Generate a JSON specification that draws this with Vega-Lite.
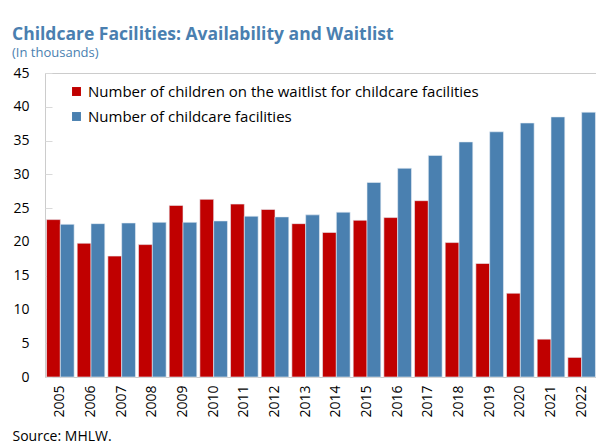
{
  "$schema": "https://vega.github.io/schema/vega-lite/v6.json",
  "autosize": "none",
  "width": 552,
  "height": 304,
  "padding": {"left": 45, "top": 73, "right": 0, "bottom": 66},
  "background": "white",
  "title": {
    "text": "Childcare Facilities: Availability and Waitlist",
    "subtitle": "(In thousands)",
    "anchor": "start",
    "frame": "group",
    "dx": -33,
    "offset": 6,
    "font": "Open Sans",
    "fontSize": 17.5,
    "fontWeight": "bold",
    "color": "#4a7fb0",
    "subtitleFont": "Open Sans",
    "subtitleFontSize": 13,
    "subtitleColor": "#4a7fb0",
    "subtitlePadding": 4
  },
  "data": {
    "values": [
      {"year": "2005", "series": "Number of children on the waitlist for childcare facilities", "value": 23.3},
      {"year": "2005", "series": "Number of childcare facilities", "value": 22.6},
      {"year": "2006", "series": "Number of children on the waitlist for childcare facilities", "value": 19.8},
      {"year": "2006", "series": "Number of childcare facilities", "value": 22.7},
      {"year": "2007", "series": "Number of children on the waitlist for childcare facilities", "value": 17.9},
      {"year": "2007", "series": "Number of childcare facilities", "value": 22.8},
      {"year": "2008", "series": "Number of children on the waitlist for childcare facilities", "value": 19.6},
      {"year": "2008", "series": "Number of childcare facilities", "value": 22.9},
      {"year": "2009", "series": "Number of children on the waitlist for childcare facilities", "value": 25.4},
      {"year": "2009", "series": "Number of childcare facilities", "value": 22.9},
      {"year": "2010", "series": "Number of children on the waitlist for childcare facilities", "value": 26.3},
      {"year": "2010", "series": "Number of childcare facilities", "value": 23.1},
      {"year": "2011", "series": "Number of children on the waitlist for childcare facilities", "value": 25.6},
      {"year": "2011", "series": "Number of childcare facilities", "value": 23.8},
      {"year": "2012", "series": "Number of children on the waitlist for childcare facilities", "value": 24.8},
      {"year": "2012", "series": "Number of childcare facilities", "value": 23.7},
      {"year": "2013", "series": "Number of children on the waitlist for childcare facilities", "value": 22.7},
      {"year": "2013", "series": "Number of childcare facilities", "value": 24.0},
      {"year": "2014", "series": "Number of children on the waitlist for childcare facilities", "value": 21.4},
      {"year": "2014", "series": "Number of childcare facilities", "value": 24.4},
      {"year": "2015", "series": "Number of children on the waitlist for childcare facilities", "value": 23.2},
      {"year": "2015", "series": "Number of childcare facilities", "value": 28.8},
      {"year": "2016", "series": "Number of children on the waitlist for childcare facilities", "value": 23.6},
      {"year": "2016", "series": "Number of childcare facilities", "value": 30.9},
      {"year": "2017", "series": "Number of children on the waitlist for childcare facilities", "value": 26.1},
      {"year": "2017", "series": "Number of childcare facilities", "value": 32.8},
      {"year": "2018", "series": "Number of children on the waitlist for childcare facilities", "value": 19.9},
      {"year": "2018", "series": "Number of childcare facilities", "value": 34.8},
      {"year": "2019", "series": "Number of children on the waitlist for childcare facilities", "value": 16.8},
      {"year": "2019", "series": "Number of childcare facilities", "value": 36.3},
      {"year": "2020", "series": "Number of children on the waitlist for childcare facilities", "value": 12.4},
      {"year": "2020", "series": "Number of childcare facilities", "value": 37.6},
      {"year": "2021", "series": "Number of children on the waitlist for childcare facilities", "value": 5.6},
      {"year": "2021", "series": "Number of childcare facilities", "value": 38.5},
      {"year": "2022", "series": "Number of children on the waitlist for childcare facilities", "value": 2.9},
      {"year": "2022", "series": "Number of childcare facilities", "value": 39.2}
    ]
  },
  "mark": {"type": "bar", "stroke": "#e8eef5", "strokeWidth": 0.6},
  "encoding": {
    "x": {
      "field": "year",
      "type": "nominal",
      "scale": {"paddingInner": 0.1, "paddingOuter": 0.05},
      "axis": {
        "title": "Source: MHLW.",
        "titleFont": "Open Sans",
        "titleFontSize": 14,
        "titleFontWeight": "normal",
        "titleColor": "#000000",
        "titleAnchor": "start",
        "titleAlign": "left",
        "titleBaseline": "top",
        "titleX": -33,
        "titleY": 52,
        "labelAngle": -90,
        "labelFont": "Open Sans",
        "labelFontSize": 14,
        "labelColor": "#000000",
        "labelPadding": 8,
        "ticks": false,
        "domain": true,
        "domainColor": "#cccccc"
      }
    },
    "xOffset": {
      "field": "series",
      "type": "nominal",
      "sort": ["Number of children on the waitlist for childcare facilities", "Number of childcare facilities"]
    },
    "y": {
      "field": "value",
      "type": "quantitative",
      "scale": {"domain": [0, 45], "nice": false},
      "axis": {
        "title": null,
        "values": [0, 5, 10, 15, 20, 25, 30, 35, 40, 45],
        "grid": false,
        "domain": false,
        "tickSize": -7,
        "tickColor": "#d9d9d9",
        "labelFont": "Open Sans",
        "labelFontSize": 14,
        "labelColor": "#000000",
        "labelPadding": 23
      }
    },
    "color": {
      "field": "series",
      "type": "nominal",
      "scale": {
        "domain": ["Number of children on the waitlist for childcare facilities", "Number of childcare facilities"],
        "range": ["#c00000", "#4a80b0"]
      },
      "legend": {
        "title": null,
        "orient": "none",
        "legendX": 24,
        "legendY": 11,
        "symbolType": "square",
        "symbolSize": 80,
        "symbolStrokeWidth": 0,
        "labelFont": "Open Sans",
        "labelFontSize": 15,
        "labelColor": "#000000",
        "labelLimit": 600,
        "rowPadding": 9,
        "labelOffset": 4
      }
    }
  },
  "config": {
    "view": {"stroke": "#cccccc", "strokeWidth": 1}
  }
}
